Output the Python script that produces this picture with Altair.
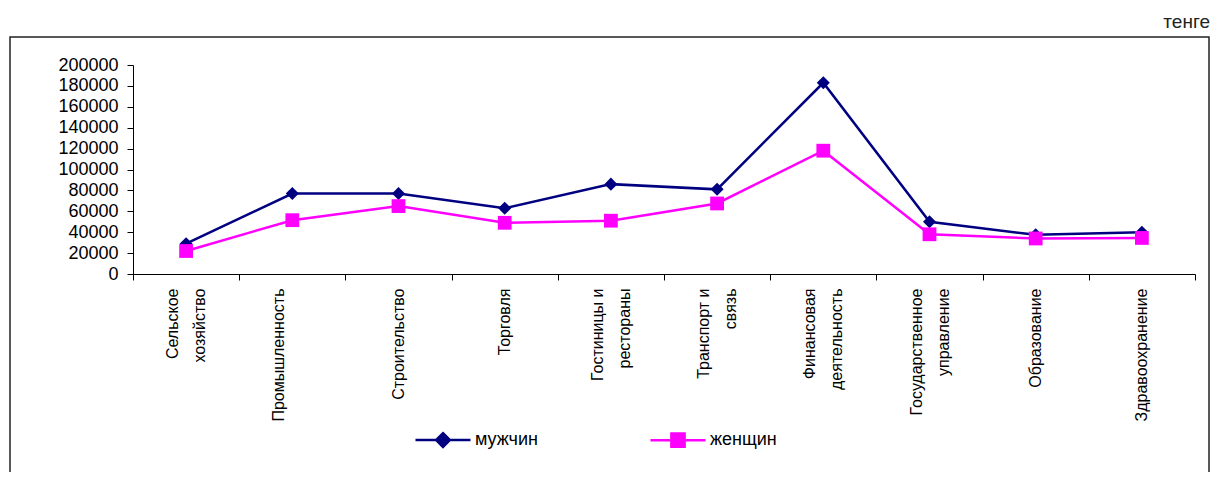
import altair as alt
import pandas as pd

categories = [
    "Сельское\nхозяйство",
    "Промышленность\n",
    "Строительство",
    "Торговля",
    "Гостиницы и\nрестораны",
    "Транспорт и\nсвязь",
    "Финансовая\nдеятельность",
    "Государственное\nуправление",
    "Образование",
    "Здравоохранение",
]
male = [29000, 77000, 77000, 63000, 86000, 81000, 183000, 50000, 37500, 40000]
female = [22000, 51500, 65000, 49000, 51000, 67500, 118000, 38000, 34000, 34500]
series_names = ["мужчин", "женщин"]
series_colors = ["#000080", "#FF00FF"]
series_shapes = ["diamond", "square"]
series_sizes = [170, 190]
# legend glyphs: a line segment with the marker in its middle
legend_glyphs = [
    "M-1,0L1,0M0,-0.25L0.25,0L0,0.25L-0.25,0Z",
    "M-1,0L1,0M-0.24,-0.24L0.24,-0.24L0.24,0.24L-0.24,0.24Z",
]
y_ticks = list(range(0, 200001, 20000))
unit_label = "тенге"

rows = []
for i, c in enumerate(categories):
    rows.append({"cat": c, "sex": series_names[0], "value": male[i]})
    rows.append({"cat": c, "sex": series_names[1], "value": female[i]})
df = pd.DataFrame(rows)

FONT = "Liberation Sans"

x_enc = alt.X(
    "cat:N",
    sort=categories,
    bandPosition=0.5,
    scale=alt.Scale(type="band", paddingInner=0, paddingOuter=0),
    axis=alt.Axis(
        title=None,
        labelAngle=270,
        labelAlign="right",
        labelBaseline="middle",
        labelExpr="split(datum.label, '\\n')",
        labelLineHeight=27,
        labelOffset={
            "condition": {"test": "indexof(datum.label, '\\n') >= 0", "value": -13.5},
            "value": 0,
        },
        labelFontSize=16,
        labelFont=FONT,
        labelColor="black",
        labelPadding=8,
        labelOverlap=False,
        labelLimit=300,
        tickBand="extent",
        tickSize=6,
        tickColor="black",
        domainColor="black",
        grid=False,
    ),
)
y_enc = alt.Y(
    "value:Q",
    scale=alt.Scale(domain=[0, 200000], nice=False),
    axis=alt.Axis(
        title=None,
        values=y_ticks,
        format="d",
        labelFontSize=18,
        labelFont=FONT,
        labelColor="black",
        labelPadding=9,
        labelOverlap=False,
        labelFlush=False,
        tickSize=6,
        tickColor="black",
        domainColor="black",
        grid=False,
    ),
)

color_scale = alt.Scale(domain=series_names, range=series_colors)

legend_def = alt.Legend(
    orient="none",
    legendX=281,
    legendY=346,
    direction="horizontal",
    title=None,
    labelFontSize=18,
    labelFont=FONT,
    labelColor="black",
    symbolSize=3025,
    symbolStrokeWidth=2.5,
    symbolOpacity=1,
    columnPadding=107,
    labelOffset=3,
)

base = alt.Chart(df)

line_layers = []
point_layers = []
for i, name in enumerate(series_names):
    sub = base.transform_filter(alt.datum.sex == name)
    line_layers.append(
        sub.mark_line(strokeWidth=2.5, color=series_colors[i]).encode(x=x_enc, y=y_enc)
    )
    point_layers.append(
        sub.mark_point(
            shape=series_shapes[i],
            size=series_sizes[i],
            filled=True,
            opacity=1,
            color=series_colors[i],
        ).encode(x=x_enc, y=y_enc)
    )

legend_layer = (
    base.transform_filter("false")
    .mark_point(opacity=1, strokeWidth=2.5)
    .encode(
        x=x_enc,
        y=y_enc,
        fill=alt.Fill("sex:N", scale=color_scale, legend=legend_def),
        stroke=alt.Stroke("sex:N", scale=color_scale, legend=legend_def),
        shape=alt.Shape(
            "sex:N",
            scale=alt.Scale(domain=series_names, range=legend_glyphs),
            legend=legend_def,
        ),
    )
)

frame = alt.Chart(pd.DataFrame({"k": [0]})).mark_rect(
    fill="transparent", stroke="#222222", strokeWidth=1.5
).encode(
    x=alt.value(-123), x2=alt.value(1076), y=alt.value(-28), y2=alt.value(440)
)

unit_text = alt.Chart(pd.DataFrame({"t": [unit_label]})).mark_text(
    align="right", baseline="alphabetic", fontSize=19, font=FONT, color="#222222"
).encode(text="t:N", x=alt.value(1077), y=alt.value(-37))

chart = alt.layer(frame, unit_text, *line_layers, *point_layers, legend_layer).properties(
    width=1062,
    height=209,
    autosize=alt.AutoSizeParams(type="none"),
    padding={"left": 125, "top": 57, "right": 16, "bottom": 198},
).configure_view(strokeWidth=0)

chart.save("out.html", embed_options={"renderer": "svg", "actions": False})
